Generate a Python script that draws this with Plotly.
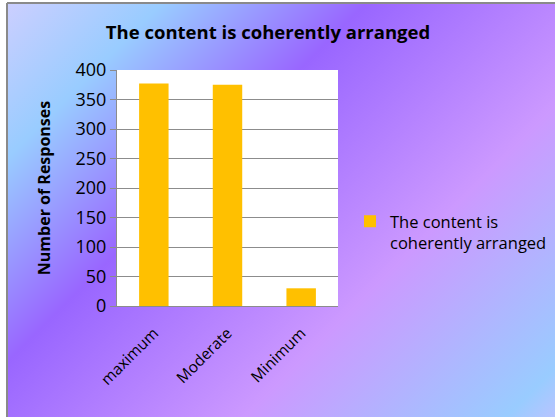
import base64
import plotly.graph_objects as go

categories = ['maximum', 'Moderate', 'Minimum']
responses = [377, 375, 30]
series_name = 'The content is<br>coherently arranged'
title_text = 'The content is coherently arranged'
y_ticks = [0, 50, 100, 150, 200, 250, 300, 350, 400]

W, H = 555, 417
L, R, T, B = 117, 217, 70, 111

# Excel-like diagonal gradient background drawn as an svg image behind everything
bg_svg = f'''<svg xmlns="http://www.w3.org/2000/svg" width="{W}" height="{H}" viewBox="0 0 {W} {H}" preserveAspectRatio="none">
<defs><linearGradient id="g" gradientUnits="userSpaceOnUse" x1="0" y1="0" x2="486" y2="486">
<stop offset="0" stop-color="#cfcfff"/>
<stop offset="0.17" stop-color="#99ccff"/>
<stop offset="0.38" stop-color="#9966ff"/>
<stop offset="0.68" stop-color="#cc99ff"/>
<stop offset="0.95" stop-color="#99ccff"/>
<stop offset="1" stop-color="#b8c4ff"/>
</linearGradient></defs>
<rect x="0" y="0" width="{W}" height="{H}" fill="#ffffff"/>
<rect x="7" y="3" width="{W}" height="{H}" fill="url(#g)"/>
<line x1="7" y1="3" x2="{W}" y2="3" stroke="#8a8a8a" stroke-width="2"/>
<line x1="7" y1="3" x2="7" y2="{H}" stroke="#8a8a8a" stroke-width="2"/>
</svg>'''
bg_uri = 'data:image/svg+xml;base64,' + base64.b64encode(bg_svg.encode()).decode()

pw = W - L - R
ph = H - T - B

fig = go.Figure()
fig.add_trace(go.Bar(
    x=categories,
    y=responses,
    name=series_name,
    marker=dict(color='#FFC000', line=dict(width=0)),
    showlegend=True
))

fig.add_layout_image(dict(
    source=bg_uri,
    xref='paper', yref='paper',
    x=-L / pw, y=1 + T / ph,
    sizex=W / pw, sizey=H / ph,
    xanchor='left', yanchor='top',
    sizing='stretch', layer='below'
))
# white plot area on top of the gradient
fig.add_shape(type='rect', xref='paper', yref='paper', x0=0, x1=1, y0=0, y1=1,
              fillcolor='white', line=dict(width=0), layer='below')

font = 'Open Sans, Lato, sans-serif'
fig.update_layout(
    width=W, height=H,
    margin=dict(l=L, r=R, t=T, b=B, autoexpand=False),
    paper_bgcolor='white',
    plot_bgcolor='white',
    font=dict(family=font, color='black', size=15),
    title=dict(text='<b>' + title_text + '</b>', x=268 / W, xanchor='center',
               y=1 - 33 / H, yanchor='middle', font=dict(size=18.5, family=font)),
    bargap=0.6,
    legend=dict(x=(350 - L) / pw, y=(H - B - 232) / ph,
                xanchor='left', yanchor='middle', bgcolor='rgba(0,0,0,0)',
                font=dict(size=16.5), itemwidth=30, tracegroupgap=0, valign='top'),
    showlegend=True
)

fig.update_xaxes(
    showline=True, linecolor='#8c8c8c', linewidth=1,
    tickangle=-45, ticks='', tickfont=dict(size=15.5),
    ticklabelstandoff=11,
    showgrid=False
)
fig.update_yaxes(
    range=[0, 400], tickvals=y_ticks,
    showline=True, linecolor='#8c8c8c', linewidth=1,
    ticks='outside', ticklen=6, tickcolor='#8c8c8c',
    gridcolor='#8c8c8c', gridwidth=1,
    tickfont=dict(size=18),
    title=dict(text='<b>Number of Responses</b>', font=dict(size=16), standoff=20),
    zeroline=False
)

fig.write_html("out.html", config={'displayModeBar': False},
               post_script="document.body.style.margin='0';document.body.style.overflow='hidden';")
